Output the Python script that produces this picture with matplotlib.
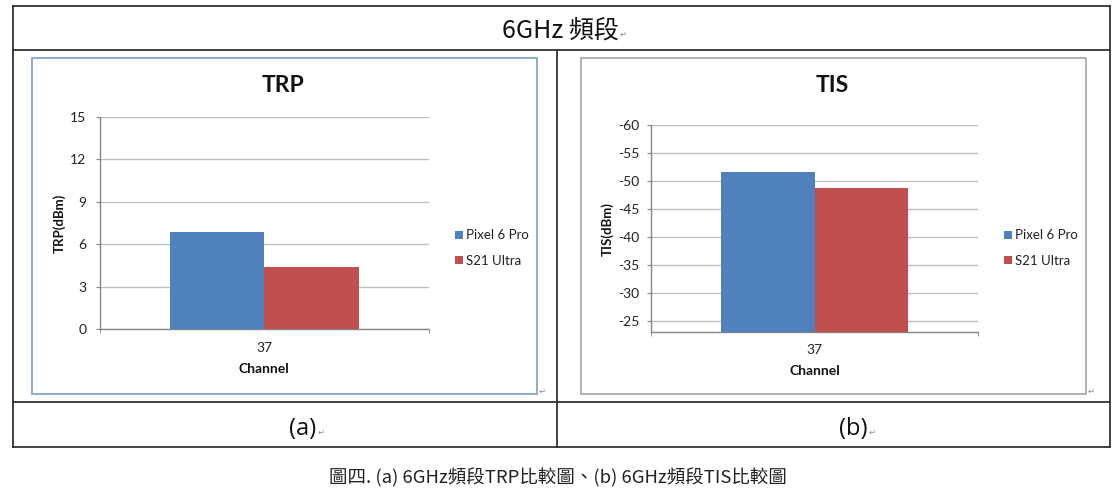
import matplotlib
matplotlib.use("Agg")
import matplotlib.pyplot as plt
from matplotlib.patches import Rectangle
from matplotlib.lines import Line2D

# ---------------- data ----------------
channels = ["37"]
series = ["Pixel 6 Pro", "S21 Ultra"]
trp_values = [6.85, 4.40]          # dBm
tis_values = [-51.6, -48.8]        # dBm
trp_ticks = [0, 3, 6, 9, 12, 15]
tis_ticks = [-60, -55, -50, -45, -40, -35, -30, -25]
header_text = "6GHz 頻段"
sub_labels = ["(a)", "(b)"]
caption_text = "圖四. (a) 6GHz頻段TRP比較圖、(b) 6GHz頻段TIS比較圖"

colors = ["#4F81BD", "#C0504D"]
W, H = 1115, 503
CHART_FONT = ["Lato", "DejaVu Sans"]
CJK_FONT = ["Noto Sans CJK TC", "DejaVu Sans"]

fig = plt.figure(figsize=(W / 100, H / 100), dpi=100)
fig.patch.set_facecolor("white")
renderer = fig.canvas.get_renderer()


def fx(x):
    return x / W


def fy(y):
    return 1 - y / H


def rect(x0, y0, x1, y1):
    return [fx(x0), fy(y1), (x1 - x0) / W, (y1 - y0) / H]


def hline(x0, x1, y, color="#333333", lw=1.3):
    fig.add_artist(Line2D([fx(x0), fx(x1)], [fy(y), fy(y)], color=color, lw=lw,
                          transform=fig.transFigure))


def vline(x, y0, y1, color="#333333", lw=1.3):
    fig.add_artist(Line2D([fx(x), fx(x)], [fy(y0), fy(y1)], color=color, lw=lw,
                          transform=fig.transFigure))


def ret_mark(x, y):
    fig.text(fx(x), fy(y), "\u21b5", fontsize=6, color="#8a8a8a",
             family=["DejaVu Sans"], ha="left", va="center")


def text_with_mark(x, y, s, size, family, dy=3):
    t = fig.text(fx(x), fy(y), s, fontsize=size, family=family,
                 ha="center", va="center", color="#111111")
    bb = t.get_window_extent(renderer=renderer)
    ret_mark(bb.x1 + 1, y + dy)
    return t


# ---------------- table ----------------
tl, tr, tt, tb = 13, 1110, 6, 447
hline(tl, tr, tt)
hline(tl, tr, 50)
hline(tl, tr, 402)
hline(tl, tr, tb)
vline(tl, tt, tb)
vline(tr, tt, tb)
vline(557, 50, tb)

text_with_mark(560, 31, header_text, 18, CJK_FONT)
text_with_mark(303, 429, sub_labels[0], 17, ["Open Sans", "DejaVu Sans"])
text_with_mark(853, 429, sub_labels[1], 17, ["Open Sans", "DejaVu Sans"])
fig.text(fx(558), fy(478), caption_text, fontsize=13.3, family=CJK_FONT,
         ha="center", va="center", color="#222222")

# chart frames
fig.add_artist(Rectangle((fx(32), fy(394)), (537 - 32) / W, (394 - 58) / H,
                         fill=False, ec="#7E9CCB", lw=1.2, transform=fig.transFigure))
fig.add_artist(Rectangle((fx(581), fy(394)), (1086 - 581) / W, (394 - 58) / H,
                         fill=False, ec="#A6A6A6", lw=1.2, transform=fig.transFigure))
ret_mark(539, 391)
ret_mark(1088, 391)


def draw_chart(pos, values, ticks, ylim, title, ylabel, title_xy, ylabel_xy,
               channel_y, legend_xy, ypad, xpad):
    ax = fig.add_axes(pos)
    width = 0.287
    x0 = 0
    offsets = [-width / 2, width / 2]
    base = ylim[0]
    handles = []
    for i, name in enumerate(series):
        bars = ax.bar([x0 + offsets[i]], [values[i] - base], width=width,
                      color=colors[i], label=name, zorder=3, bottom=base)
        handles.append(bars)
    ax.set_xlim(-0.5, 0.5)
    ax.set_ylim(*ylim)
    ax.set_yticks(ticks)
    ax.set_yticklabels([str(t) for t in ticks])
    ax.yaxis.grid(True, color="#BFBFBF", lw=1.0, zorder=0)
    ax.set_axisbelow(True)
    for s in ["top", "right"]:
        ax.spines[s].set_visible(False)
    for s in ["left", "bottom"]:
        ax.spines[s].set_color("#868686")
        ax.spines[s].set_linewidth(1.0)
    ax.set_xticks([0])
    ax.set_xticklabels(channels)
    ax.set_xticks([-0.5, 0.5], minor=True)
    ax.tick_params(axis="x", which="major", length=0, pad=xpad, labelsize=10,
                   labelcolor="#222222")
    ax.tick_params(axis="x", which="minor", length=3, color="#868686", direction="out")
    ax.tick_params(axis="y", length=3, color="#868686", pad=ypad, labelsize=10,
                   labelcolor="#222222")
    for lab in ax.get_xticklabels() + ax.get_yticklabels():
        lab.set_family(CHART_FONT)
    fig.text(fx(title_xy[0]), fy(title_xy[1]), title, fontsize=16.5, fontweight="bold",
             family=CHART_FONT, ha="center", va="center", color="#111111")
    fig.text(fx(ylabel_xy[0]), fy(ylabel_xy[1]), ylabel, fontsize=9.5, fontweight="bold",
             family=CHART_FONT, ha="center", va="center", rotation=90, color="#111111")
    cx = (pos[0] + pos[2] / 2)
    fig.text(cx, fy(channel_y), "Channel", fontsize=10,
             fontweight="bold", family=CHART_FONT, ha="center", va="center",
             color="#111111")
    leg = ax.legend(handles=handles, labels=series, loc="center left",
                    bbox_to_anchor=(fx(legend_xy[0]), fy(legend_xy[1])),
                    bbox_transform=fig.transFigure, frameon=False,
                    handlelength=0.6, handleheight=0.6, handletextpad=0.25,
                    labelspacing=1.0, borderpad=0, borderaxespad=0,
                    prop={"family": CHART_FONT, "size": 9.5})
    for t in leg.get_texts():
        t.set_color("#222222")
    return ax


# TRP chart
draw_chart(rect(99.5, 116.7, 429, 329), trp_values, trp_ticks, (0, 15.0),
           "TRP", "TRP(dBm)", (283, 85), (59, 223), 369, (455, 248),
           ypad=6.3, xpad=9)

# TIS chart (reversed axis: -60 at top)
draw_chart(rect(651, 125, 978, 332), tis_values, tis_ticks, (-23.04, -60),
           "TIS", "TIS(dBm)", (832, 85), (607, 229), 371, (1004, 248),
           ypad=5.3, xpad=8.5)

fig.savefig("out.png", dpi=100, facecolor="white")
